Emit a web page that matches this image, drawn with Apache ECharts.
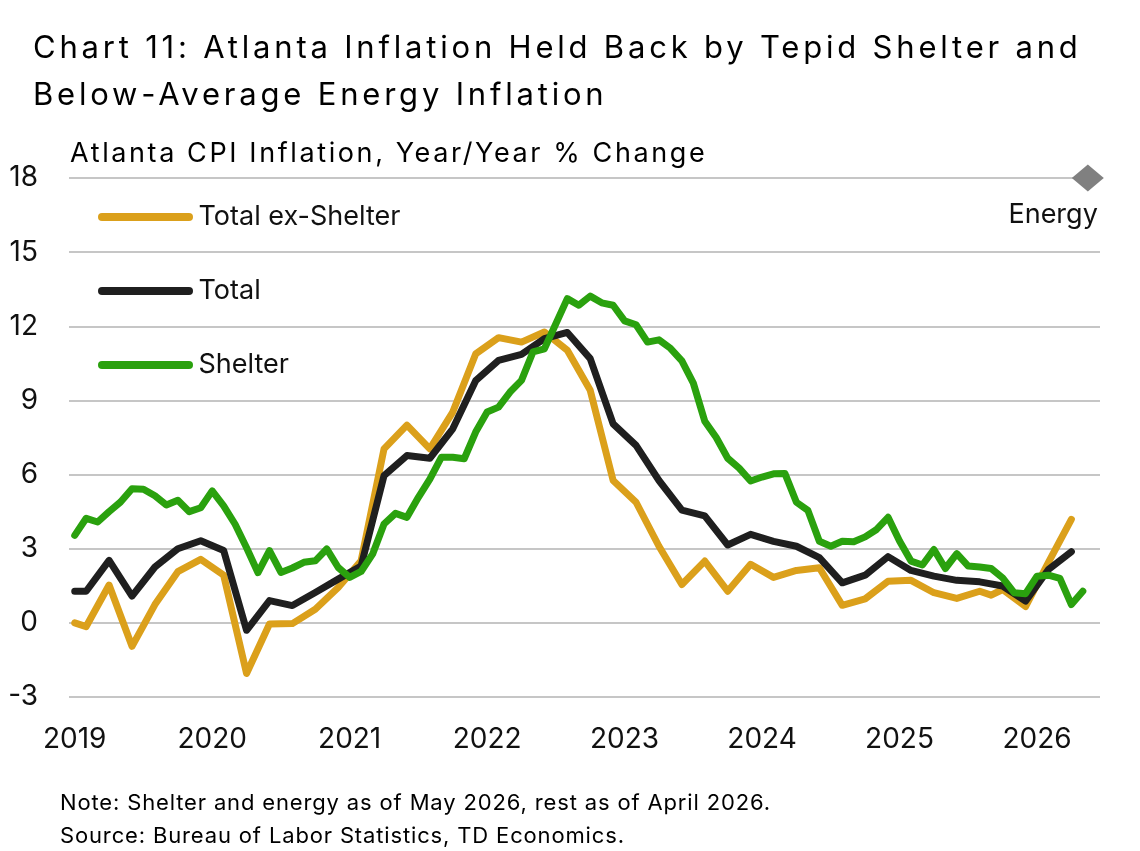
<!DOCTYPE html>
<html>
<head>
<meta charset="utf-8">
<script src="https://cdn.jsdelivr.net/npm/echarts@6/dist/echarts.min.js"></script>
<style>
  html, body { margin: 0; padding: 0; background: #fff; }
  #wrap { position: relative; width: 1140px; height: 851px; }
  #chart { position: absolute; left: 0; top: 0; width: 1140px; height: 851px; }
  .txt { position: absolute; font-family: Inter, sans-serif; color: #000; white-space: pre; }
  #title { left: 33px; top: 23px; font-size: 31px; line-height: 47px; letter-spacing: 3.8px; }
  #subtitle { left: 70px; top: 136px; font-size: 27px; line-height: 34px; letter-spacing: 2.6px; }
  #note { left: 60px; top: 786px; font-size: 22px; line-height: 33px; letter-spacing: 0.85px; }
</style>
</head>
<body>
<div id="wrap">
  <div id="chart"></div>
  <div class="txt" id="title">Chart 11: Atlanta Inflation Held Back by Tepid Shelter and
Below-Average Energy Inflation</div>
  <div class="txt" id="subtitle">Atlanta CPI Inflation, Year/Year % Change</div>
  <div class="txt" id="note">Note: Shelter and energy as of May 2026, rest as of April 2026.
Source: Bureau of Labor Statistics, TD Economics.</div>
</div>
<script>
'use strict';

///// data /////

const years = ['2019', '2020', '2021', '2022', '2023', '2024', '2025', '2026'];
const lastMonth = '2026-06';

// Total ex-Shelter (bimonthly, + Jan 2019)
const exShelter = [
  ['2019-01', 0.0], ['2019-02', -0.15], ['2019-04', 1.53], ['2019-06', -0.95], ['2019-08', 0.74],
  ['2019-10', 2.07], ['2019-12', 2.57], ['2020-02', 1.93], ['2020-04', -2.05], ['2020-06', -0.05],
  ['2020-08', -0.03], ['2020-10', 0.55], ['2020-12', 1.43], ['2021-02', 2.51], ['2021-04', 7.04],
  ['2021-06', 8.0], ['2021-08', 7.04], ['2021-10', 8.53], ['2021-12', 10.88], ['2022-02', 11.54],
  ['2022-04', 11.36], ['2022-06', 11.77], ['2022-08', 11.03], ['2022-10', 9.41], ['2022-12', 5.76],
  ['2023-02', 4.88], ['2023-04', 3.1], ['2023-06', 1.55], ['2023-08', 2.5], ['2023-10', 1.28],
  ['2023-12', 2.37], ['2024-02', 1.84], ['2024-04', 2.12], ['2024-06', 2.23], ['2024-08', 0.71],
  ['2024-10', 0.97], ['2024-12', 1.68], ['2025-02', 1.72], ['2025-04', 1.22], ['2025-06', 0.99],
  ['2025-08', 1.28], ['2025-09', 1.12], ['2025-10', 1.35], ['2025-12', 0.66], ['2026-02', 2.45],
  ['2026-04', 4.19]
];

// Total
const total = [
  ['2019-01', 1.28], ['2019-02', 1.28], ['2019-04', 2.53], ['2019-06', 1.08], ['2019-08', 2.26],
  ['2019-10', 3.0], ['2019-12', 3.32], ['2020-02', 2.93], ['2020-04', -0.3], ['2020-06', 0.9],
  ['2020-08', 0.7], ['2020-10', 1.23], ['2020-12', 1.77], ['2021-02', 2.3], ['2021-04', 5.96],
  ['2021-06', 6.77], ['2021-08', 6.66], ['2021-10', 7.85], ['2021-12', 9.8], ['2022-02', 10.62],
  ['2022-04', 10.86], ['2022-06', 11.5], ['2022-08', 11.75], ['2022-10', 10.69], ['2022-12', 8.05],
  ['2023-02', 7.18], ['2023-04', 5.76], ['2023-06', 4.56], ['2023-08', 4.33], ['2023-10', 3.15],
  ['2023-12', 3.58], ['2024-02', 3.3], ['2024-04', 3.1], ['2024-06', 2.64], ['2024-08', 1.62],
  ['2024-10', 1.93], ['2024-12', 2.68], ['2025-02', 2.12], ['2025-04', 1.89], ['2025-06', 1.72],
  ['2025-08', 1.66], ['2025-10', 1.49], ['2025-12', 0.88], ['2026-02', 2.16], ['2026-04', 2.88]
];

// Shelter (monthly, Jan 2019 - May 2026)
const shelter = [
  3.54, 4.23, 4.08, 4.5, 4.89, 5.43, 5.41, 5.14, 4.77, 4.96, 4.5, 4.66,
  5.34, 4.73, 3.99, 3.04, 2.03, 2.92, 2.04, 2.22, 2.45, 2.51, 2.99, 2.24,
  1.84, 2.08, 2.78, 4.0, 4.43, 4.27, 5.08, 5.82, 6.7, 6.7, 6.64, 7.72,
  8.53, 8.73, 9.34, 9.81, 10.96, 11.09, 12.1, 13.12, 12.85, 13.22, 12.95, 12.85,
  12.22, 12.06, 11.36, 11.45, 11.11, 10.6, 9.7, 8.16, 7.5, 6.66, 6.26, 5.74,
  5.9, 6.03, 6.04, 4.88, 4.55, 3.3, 3.1, 3.3, 3.28, 3.48, 3.78, 4.27,
  3.31, 2.5, 2.34, 2.97, 2.2, 2.8, 2.3, 2.26, 2.2, 1.82, 1.22, 1.18,
  1.89, 1.93, 1.8, 0.74, 1.28
];

// Energy (off the top of the scale, shown at the cap)
const energy = [['2026-05', 18]];

const yTicks = { min: -3, max: 18, interval: 3 };

//////////////////////

const months = [];
for (const y of years) {
  for (let m = 1; m <= 12; m++) {
    const key = y + '-' + (m < 10 ? '0' + m : m);
    months.push(key);
    if (key === lastMonth) break;
  }
}

const FONT = 'Inter';
const ORANGE = '#DBA01B';
const BLACK = '#1F1F1F';
const GREEN = '#2AA10E';

const pill = 'path://M4,0 L91,0 A4,4 0 0 1 91,8 L4,8 A4,4 0 0 1 4,0 Z';

const legendAt = (name, top) => ({
  data: [name],
  left: 98,
  top: top,
  padding: 0,
  icon: pill,
  itemWidth: 96,
  itemHeight: 8,
  selectedMode: false,
  textStyle: { fontFamily: FONT, fontSize: 27, color: '#111', lineHeight: 30 }
});

const lineSeries = (name, data, color) => ({
  name: name,
  type: 'line',
  data: data,
  symbol: 'none',
  lineStyle: { color: color, width: 7, join: 'round', cap: 'round' },
  itemStyle: { color: color },
  emphasis: { disabled: true },
  animation: false
});

const chart = echarts.init(document.getElementById('chart'));

chart.setOption({
  backgroundColor: 'transparent',
  animation: false,
  legend: [
    legendAt('Total ex-Shelter', 202),
    legendAt('Total', 276),
    legendAt('Shelter', 350)
  ],
  grid: { left: 69, right: 40, top: 178, bottom: 154, containLabel: false },
  xAxis: {
    type: 'category',
    data: months,
    boundaryGap: true,
    axisLine: { show: false },
    axisTick: { show: false },
    splitLine: { show: false },
    axisLabel: {
      interval: (i) => i % 12 === 0,
      formatter: (v) => v.slice(0, 4),
      fontFamily: FONT, fontSize: 28, color: '#111', margin: 29
    }
  },
  yAxis: {
    type: 'value',
    min: yTicks.min, max: yTicks.max, interval: yTicks.interval,
    axisLine: { show: false },
    axisTick: { show: false },
    splitLine: { lineStyle: { color: '#c6c6c6', width: 2 } },
    axisLabel: { fontFamily: FONT, fontSize: 28, color: '#111', margin: 31 }
  },
  series: [
    lineSeries('Total ex-Shelter', exShelter, ORANGE),
    lineSeries('Total', total, BLACK),
    lineSeries('Shelter', shelter, GREEN),
    {
      name: 'Energy',
      type: 'scatter',
      data: energy,
      symbol: 'diamond',
      symbolSize: [32, 27],
      symbolOffset: [5, 0],
      clip: false,
      itemStyle: { color: '#808080', opacity: 1 },
      emphasis: { disabled: true },
      label: {
        show: true,
        formatter: '{a}',
        position: 'bottom',
        align: 'right',
        distance: 10,
        offset: [10, 0],
        opacity: 1,
        fontFamily: FONT, fontSize: 27, color: '#111'
      }
    }
  ]
});
</script>
</body>
</html>
